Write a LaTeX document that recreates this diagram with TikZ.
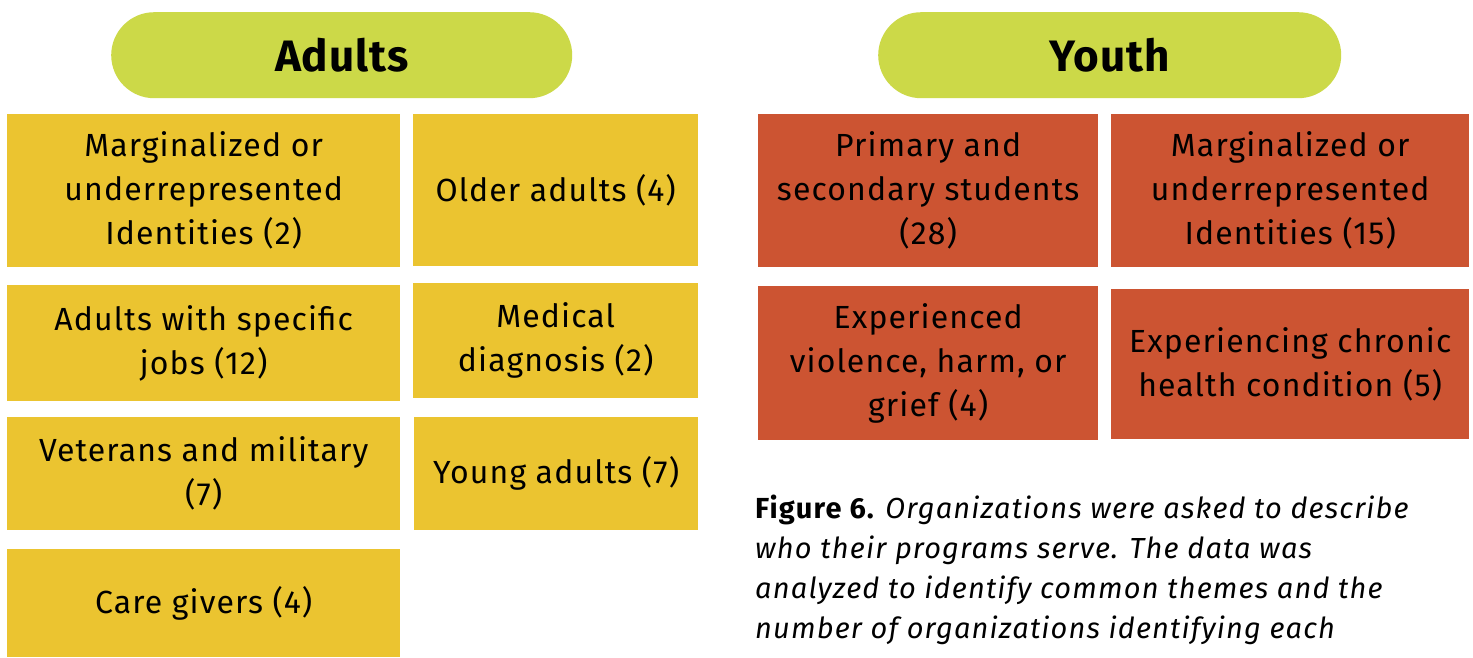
\documentclass[tikz,border=0pt]{standalone}
\usepackage{fontspec}
\setmainfont[LetterSpace=3.5]{Fira Sans}
\newfontfamily\capfont[LetterSpace=4]{Fira Sans}
\newfontfamily\titlefont[LetterSpace=2]{Fira Sans}
\definecolor{pillc}{RGB}{204,217,72}
\definecolor{adultc}{RGB}{235,196,48}
\definecolor{youthc}{RGB}{204,84,50}
\begin{document}
\begin{tikzpicture}[x=1pt,y=-1pt,
  cell/.style={anchor=north west, inner sep=0pt, align=center, text=black,
    font=\fontsize{32}{44}\selectfont},
  adultbox/.style={cell, fill=adultc},
  youthbox/.style={cell, fill=youthc},
  pill/.style={anchor=north west, inner sep=0pt, fill=pillc, rounded corners=43pt,
    minimum width=461pt, minimum height=86pt, font=\titlefont\fontsize{44}{44}\selectfont\bfseries},
  capline/.style={anchor=base west, inner sep=0pt, font=\capfont\fontsize{29}{40}\selectfont\itshape}]
\useasboundingbox (0,0) rectangle (1473,657);
\fill[white] (0,0) rectangle (1473,657);
% headers
\node[pill] (adults) at (111,12) {Adults};
\node[pill, minimum width=463pt] (youth) at (878,12) {Youth};
% adults boxes
\node[adultbox, minimum width=393pt, minimum height=153pt] (a1) at (7,114) {Marginalized or\\underrepresented\\Identities (2)};
\node[adultbox, minimum width=285pt, minimum height=152pt] (a2) at (413,114) {Older adults (4)};
\node[adultbox, minimum width=393pt, minimum height=116pt] (a3) at (7,285) {Adults with specific\\jobs (12)};
\node[adultbox, minimum width=285pt, minimum height=115pt] (a4) at (413,283) {Medical\\diagnosis (2)};
\node[adultbox, minimum width=393pt, minimum height=113pt] (a5) at (7,417) {Veterans and military\\(7)};
\node[adultbox, minimum width=284pt, minimum height=113pt] (a6) at (414,417) {Young adults (7)};
\node[adultbox, minimum width=393pt, minimum height=108pt] (a7) at (7,549) {Care givers (4)};
% youth boxes
\node[youthbox, minimum width=340pt, minimum height=153pt] (y1) at (758,114) {Primary and\\secondary students\\(28)};
\node[youthbox, minimum width=358pt, minimum height=153pt] (y2) at (1111,114) {Marginalized or\\underrepresented\\Identities (15)};
\node[youthbox, minimum width=340pt, minimum height=154pt] (y3) at (758,286) {Experienced\\violence, harm, or\\grief (4)};
\node[youthbox, minimum width=358pt, minimum height=150pt] (y4) at (1111,289) {Experiencing chronic\\health condition (5)};
% caption
\node[capline] (c1) at (755,518) {{\upshape\bfseries Figure 6.} Organizations were asked to describe};
\node[capline] (c2) at (755,558) {who their programs serve. The data was};
\node[capline] (c3) at (755,598) {analyzed to identify common themes and the};
\node[capline] (c4) at (755,638) {number of organizations identifying each};
\end{tikzpicture}
\end{document}
